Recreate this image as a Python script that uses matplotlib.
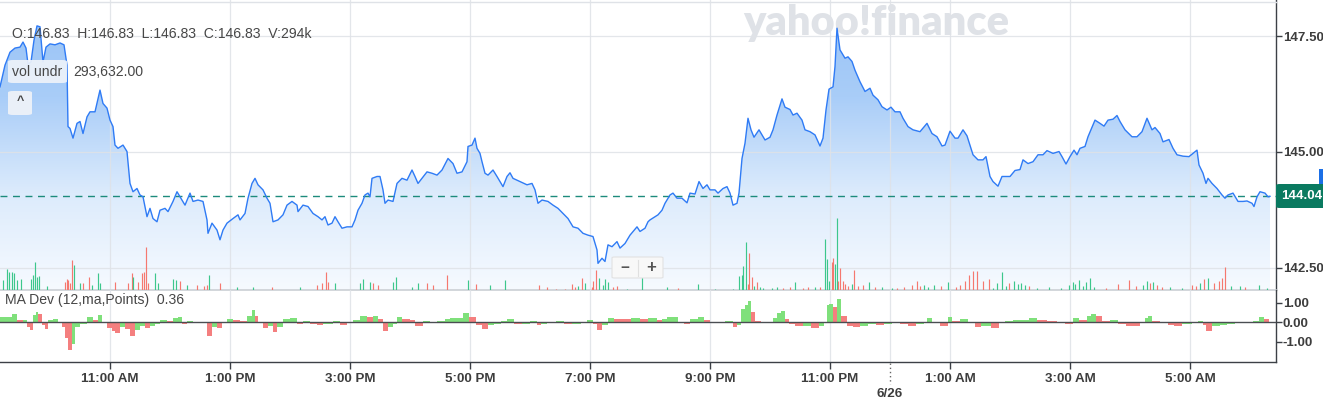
import matplotlib
matplotlib.use("Agg")
import matplotlib.pyplot as plt
import numpy as np
from matplotlib.colors import LinearSegmentedColormap
from matplotlib.patches import FancyBboxPatch, Rectangle
from matplotlib.lines import Line2D

plt.rcParams['font.family'] = ['Liberation Sans', 'DejaVu Sans']

# ---------------- data (minutes after 09:00 on 6/25) ----------------
price_min = [10, 15, 20, 25, 30, 33, 36, 38, 41, 44, 47, 50, 53, 56, 60, 65, 70, 74, 77, 78,
             80, 83, 87, 90, 93, 97, 100, 105, 110, 113, 117, 120, 123, 125, 128, 133, 137, 140, 143, 147,
             150, 153, 157, 160, 163, 167, 170, 175, 178, 183, 187, 192, 195, 200, 203, 208, 213, 217, 218, 222,
             227, 230, 233, 237, 243, 248, 250, 255, 258, 262, 265, 268, 273, 277, 280, 283, 288, 293, 297, 302,
             307, 308, 313, 318, 323, 328, 332, 335, 338, 342, 345, 348, 352, 357, 362, 365, 368, 372, 375, 378,
             380, 382, 387, 390, 393, 395, 398, 403, 407, 412, 417, 422, 425, 428, 432, 437, 442, 447, 452, 458,
             463, 467, 472, 477, 478, 482, 485, 487, 490, 492, 495, 498, 503, 507, 510, 513, 517, 520, 523, 530,
             537, 542, 545, 548, 552, 558, 563, 568, 573, 578, 583, 588, 593, 598, 603, 607, 608, 612, 615, 618,
             622, 627, 630, 635, 640, 647, 650, 655, 658, 660, 665, 668, 672, 675, 680, 683, 687, 692, 697, 700,
             705, 709, 713, 717, 720, 725, 728, 733, 737, 740, 743, 747, 749, 752, 755, 758, 761, 764, 769, 775,
             780, 783, 787, 792, 795, 800, 803, 807, 812, 815, 820, 825, 830, 833, 836, 839, 843, 845, 847, 850,
             855, 858, 862, 865, 870, 875, 880, 883, 888, 892, 897, 901, 905, 910, 913, 918, 923, 930, 937, 942,
             947, 952, 955, 960, 965, 968, 973, 977, 983, 988, 993, 996, 1000, 1003, 1008, 1012, 1020, 1025, 1030, 1033,
             1038, 1043, 1048, 1053, 1057, 1063, 1069, 1072, 1076, 1080, 1084, 1087, 1090, 1095, 1098, 1105, 1110, 1114, 1118, 1123,
             1127, 1130, 1135, 1142, 1147, 1152, 1157, 1162, 1165, 1170, 1173, 1179, 1183, 1187, 1193, 1199, 1203, 1207, 1209, 1213,
             1216, 1218, 1222, 1227, 1232, 1235, 1238, 1243, 1248, 1253, 1257, 1262, 1264, 1267, 1270, 1275, 1278, 1280]
price = [146.41, 146.88, 147.16, 147.25, 147.27, 147.38, 147.25, 146.90, 146.95, 147.42, 147.73, 147.71, 146.95, 147.27, 147.34, 147.32, 147.36, 147.32, 146.88, 145.55,
         145.51, 145.30, 145.62, 145.66, 145.40, 145.76, 145.87, 145.87, 146.34, 146.05, 145.95, 145.69, 145.55, 145.15, 145.08, 145.15, 145.01, 144.32, 144.14, 144.21,
         144.07, 144.03, 143.60, 143.78, 143.56, 143.49, 143.74, 143.78, 143.71, 143.93, 144.14, 143.96, 143.85, 144.11, 143.93, 143.96, 143.93, 143.53, 143.24, 143.46,
         143.31, 143.10, 143.31, 143.46, 143.56, 143.64, 143.53, 143.67, 144.00, 144.32, 144.43, 144.29, 144.18, 144.00, 143.89, 143.49, 143.53, 143.64, 143.85, 143.93,
         143.85, 143.71, 143.85, 143.82, 143.67, 143.60, 143.53, 143.60, 143.42, 143.46, 143.60, 143.49, 143.35, 143.38, 143.38, 143.53, 143.74, 143.89, 144.07, 144.11,
         144.03, 144.43, 144.47, 144.47, 144.18, 143.89, 143.96, 143.93, 144.32, 144.43, 144.39, 144.61, 144.47, 144.32, 144.43, 144.57, 144.54, 144.50, 144.61, 144.86,
         144.75, 144.54, 144.57, 144.79, 145.12, 145.15, 145.30, 145.08, 144.97, 144.79, 144.54, 144.50, 144.61, 144.47, 144.36, 144.25, 144.47, 144.55, 144.43, 144.36,
         144.29, 144.32, 144.18, 143.89, 143.96, 143.93, 143.85, 143.78, 143.67, 143.56, 143.38, 143.35, 143.24, 143.20, 143.17, 142.88, 142.59, 142.70, 142.63, 142.99,
         142.95, 143.06, 142.92, 143.02, 143.20, 143.38, 143.28, 143.35, 143.49, 143.53, 143.60, 143.64, 143.74, 143.89, 144.07, 144.11, 144.00, 144.00, 143.90, 144.11,
         144.09, 144.36, 144.21, 144.29, 144.18, 144.18, 144.11, 144.21, 144.25, 144.11, 143.85, 143.89, 144.11, 144.86, 145.19, 145.73, 145.48, 145.32, 145.48, 145.26,
         145.32, 145.48, 145.80, 146.15, 145.97, 145.92, 145.80, 145.84, 145.69, 145.48, 145.44, 145.37, 145.13, 145.30, 145.91, 146.36, 146.41, 146.85, 147.68, 147.21,
         147.03, 147.06, 146.96, 146.77, 146.52, 146.31, 146.38, 146.23, 146.13, 145.98, 145.91, 145.97, 145.87, 145.87, 145.73, 145.55, 145.48, 145.44, 145.62, 145.40,
         145.33, 145.13, 145.15, 145.45, 145.30, 145.30, 145.48, 145.35, 144.94, 144.83, 144.83, 144.90, 144.47, 144.36, 144.26, 144.47, 144.47, 144.60, 144.62, 144.83,
         144.75, 144.79, 144.94, 144.94, 145.03, 144.97, 145.01, 144.90, 144.74, 144.90, 145.04, 144.94, 145.08, 145.12, 145.33, 145.69, 145.62, 145.56, 145.69, 145.71,
         145.79, 145.66, 145.48, 145.33, 145.33, 145.44, 145.73, 145.48, 145.53, 145.40, 145.22, 145.27, 145.08, 144.94, 144.91, 144.90, 144.97, 145.04, 144.72, 144.54,
         144.32, 144.43, 144.32, 144.21, 144.07, 144.00, 144.07, 144.11, 143.93, 143.93, 143.94, 143.89, 143.82, 144.03, 144.14, 144.11, 144.03, 144.04]
last_price = 144.04

vol_min = [13, 17, 19, 22, 24, 27, 31, 41, 43, 45, 47, 49, 57, 75, 77, 78, 80, 82, 84, 90,
           93, 99, 102, 108, 110, 125, 138, 142, 143, 148, 152, 154, 156, 158, 165, 168, 183, 186, 190, 197,
           207, 214, 217, 219, 230, 247, 263, 282, 310, 327, 332, 336, 338, 345, 370, 373, 380, 383, 388, 403,
           406, 422, 428, 437, 443, 457, 478, 486, 500, 515, 549, 557, 566, 575, 582, 585, 588, 592, 595, 602,
           603, 606, 609, 613, 615, 618, 623, 627, 637, 652, 677, 688, 708, 725, 743, 749, 752, 753, 756, 758,
           759, 762, 764, 767, 770, 773, 782, 787, 793, 800, 805, 813, 818, 825, 830, 835, 837, 839, 842, 843,
           845, 847, 848, 850, 853, 855, 858, 862, 864, 868, 873, 879, 885, 892, 902, 907, 914, 922, 927, 930,
           934, 938, 944, 951, 958, 966, 970, 975, 979, 983, 987, 993, 999, 1003, 1007, 1012, 1016, 1019, 1024, 1028,
           1031, 1035, 1039, 1047, 1059, 1071, 1079, 1083, 1085, 1089, 1093, 1096, 1100, 1104, 1116, 1128, 1139, 1146, 1153, 1157,
           1160, 1163, 1167, 1172, 1180, 1192, 1202, 1206, 1210, 1214, 1218, 1224, 1229, 1232, 1235, 1241, 1250, 1255, 1269, 1277]
vol_k = [40, 83, 73, 73, 67, 40, 43, 43, 60, 113, 53, 56, 16, 33, 43, 40, 29, 120, 100, 27,
         29, 53, 20, 67, 27, 33, 27, 67, 53, 33, 67, 73, 173, 27, 67, 27, 43, 40, 37, 20,
         20, 16, 20, 60, 27, 11, 11, 13, 13, 20, 27, 73, 33, 27, 29, 43, 33, 27, 20, 33,
         51, 13, 27, 27, 20, 60, 39, 25, 19, 39, 19, 12, 4, 4, 24, 13, 17, 48, 27, 13,
         37, 80, 48, 21, 44, 31, 11, 16, 5, 131, 13, 8, 24, 4, 4, 57, 61, 97, 193, 24,
         148, 51, 17, 31, 11, 8, 8, 13, 8, 11, 31, 8, 13, 11, 13, 204, 124, 37, 111, 128,
         104, 288, 37, 88, 37, 24, 17, 24, 80, 17, 21, 31, 11, 13, 8, 8, 12, 21, 35, 15,
         21, 12, 21, 15, 31, 12, 21, 35, 61, 75, 75, 35, 44, 8, 28, 71, 15, 28, 35, 25,
         28, 21, 17, 8, 12, 8, 21, 31, 25, 39, 17, 31, 48, 12, 8, 25, 39, 15, 21, 35,
         28, 31, 21, 12, 12, 8, 21, 17, 28, 44, 48, 28, 35, 48, 92, 15, 17, 12, 21, 8]
vol_dir = ("gggggggggggggrrrrrgg" "rrgggrrrgrrrrrggggrg" "rrrgrggrgrrrrggggrrg" "gggrrrgrggrrrrrrgrgr"
           "rrggggrrgggrgggggggr" "rrgrggggrrgrrgrgggrr" "ggrrrrrgrrrgrggrrrrr" "gggrgrrrrrrrrggggrgg"
           "ggrgggggggggggrrrrgg" "rgrrggrrgrgrrrrggrgg")

dev_min = [10, 13, 17, 20, 22, 27, 33, 37, 40, 43, 46, 48, 52, 55, 58, 63, 68, 72, 75, 78,
           82, 85, 90, 97, 103, 108, 112, 117, 122, 125, 130, 135, 140, 145, 150, 155, 160, 165, 170, 177,
           183, 188, 192, 197, 203, 210, 217, 222, 227, 232, 237, 243, 250, 257, 262, 265, 268, 273, 278, 283,
           287, 293, 300, 307, 313, 320, 327, 333, 343, 350, 357, 363, 370, 377, 383, 388, 393, 398, 403, 407,
           412, 420, 425, 433, 440, 447, 455, 460, 473, 479, 486, 492, 498, 504, 511, 517, 524, 532, 540, 547,
           551, 557, 566, 574, 582, 591, 597, 603, 607, 612, 618, 624, 633, 641, 650, 658, 667, 672, 677, 688,
           694, 700, 708, 714, 720, 729, 735, 743, 747, 751, 755, 758, 761, 765, 771, 777, 783, 787, 791, 795,
           799, 805, 813, 821, 829, 834, 837, 839, 843, 847, 851, 857, 863, 870, 878, 886, 894, 902, 910, 918,
           926, 934, 937, 942, 950, 958, 962, 970, 978, 985, 991, 1001, 1009, 1015, 1023, 1031, 1039, 1047, 1057, 1067,
           1075, 1083, 1089, 1097, 1101, 1106, 1112, 1120, 1128, 1136, 1144, 1150, 1155, 1158, 1162, 1170, 1178, 1184, 1192, 1202,
           1208, 1213, 1216, 1222, 1230, 1237, 1245, 1253, 1263, 1269, 1274, 1279]
dev = [0.27, 0.27, 0.27, 0.27, 0.44, 0.14, 0.14, -0.24, -0.41, 0.39, 0.51, 0.44, -0.12, -0.34, 0.14, 0.17, 0.00, -0.24, -0.80, -1.42,
       -1.13, -0.24, -0.07, 0.27, 0.14, 0.39, 0.00, -0.29, -0.46, -0.54, -0.24, -0.34, -0.71, -0.37, -0.17, -0.29, -0.17, -0.07, 0.10, 0.05,
       0.22, 0.27, -0.07, 0.07, 0.03, 0.03, -0.68, -0.24, -0.29, -0.03, 0.17, 0.14, 0.05, 0.30, 0.61, 0.34, -0.03, -0.29, -0.20, -0.51,
       -0.24, 0.17, 0.20, -0.07, 0.07, -0.07, -0.14, -0.07, 0.07, -0.12, -0.03, 0.10, 0.34, 0.27, 0.34, 0.17, -0.46, -0.24, -0.07, 0.27,
       0.17, 0.14, -0.17, 0.07, 0.00, 0.07, 0.17, 0.24, 0.47, 0.27, -0.15, -0.32, -0.15, -0.07, 0.07, 0.19, -0.07, -0.07, 0.05, -0.12,
       -0.07, 0.02, 0.07, -0.07, -0.07, -0.03, 0.10, -0.07, -0.41, -0.15, 0.24, 0.19, 0.17, 0.24, 0.19, 0.24, 0.14, 0.17, 0.25, -0.03,
       -0.08, 0.17, 0.25, 0.14, 0.00, -0.03, 0.07, -0.25, -0.14, 0.68, 0.88, 1.10, 0.51, 0.08, 0.03, -0.03, 0.20, 0.47, 0.59, 0.17,
       -0.08, -0.20, -0.17, -0.27, -0.17, 0.00, 0.88, 0.93, 0.76, 1.18, 0.30, -0.17, -0.25, -0.20, -0.08, -0.14, -0.08, -0.03, -0.10, -0.20,
       -0.08, 0.03, 0.20, -0.03, -0.20, 0.25, 0.08, 0.17, -0.03, -0.25, -0.20, -0.30, -0.03, 0.08, 0.14, 0.14, 0.20, 0.14, 0.07, 0.00,
       -0.08, 0.20, 0.14, 0.30, 0.42, 0.34, 0.08, 0.14, -0.08, -0.17, -0.20, -0.03, 0.20, 0.30, 0.08, -0.03, -0.14, -0.20, -0.08, 0.03,
       0.08, -0.14, -0.42, -0.17, -0.14, -0.08, 0.03, -0.03, 0.08, 0.25, 0.17, 0.00]

tick_min = [120, 240, 360, 480, 600, 720, 840, 960, 1080, 1200]
tick_lbl = ["11:00 AM", "1:00 PM", "3:00 PM", "5:00 PM", "7:00 PM", "9:00 PM",
            "11:00 PM", "1:00 AM", "3:00 AM", "5:00 AM"]
day_min = 900
day_lbl = "6/26"
price_ticks = [142.5, 145.0, 147.5]
dev_ticks = [-1.0, 0.0, 1.0]

# ---------------- figure ----------------
W, H = 1323, 399
fig = plt.figure(figsize=(W / 100, H / 100), dpi=100)
fig.patch.set_facecolor('white')

def fx(px):
    return px / W

def fy(py):
    return 1 - py / H

XL = (10, 1286)
P_LO, P_HI = 142.013, 148.29
GRID = '#dfe2e7'
AXC = '#3c4046'
TXT = '#3d3d3d'
FS = 10.1

ax = fig.add_axes([0, fy(290), fx(1276), 290 / H])
axd = fig.add_axes([0, fy(362), fx(1276), 72 / H])
for a in (ax, axd):
    a.set_facecolor('none')
    a.set_xlim(*XL)
    a.spines['top'].set_visible(False)
    a.spines['left'].set_visible(False)
    a.spines['right'].set_color(AXC)
    a.spines['right'].set_linewidth(1.0)

# watermark behind axes
fig.text(fx(743), fy(23), 'yahoo!finance', fontsize=30, fontweight='heavy',
         color='#dfe2e7', va='center', ha='left', zorder=-5, family=['Lato', 'DejaVu Sans'])
fig.add_artist(Line2D([0, fx(1276)], [fy(1.5), fy(1.5)], color=GRID, lw=1.0))

# ---- price panel ----
ax.set_ylim(P_LO, P_HI)
ax.spines['bottom'].set_color('#cfd3d8')
ax.spines['bottom'].set_linewidth(1.3)

px_ = np.array(price_min, dtype=float)
py_ = np.array(price)
poly = ax.fill_between(px_, py_, P_LO, color='none', lw=0)
path = poly.get_paths()[0]
cmap = LinearSegmentedColormap.from_list('g', ['#f6faff', '#dcebfc', '#a9cdf8', '#97c2f6'])
grad = np.linspace(1, 0, 256).reshape(-1, 1)
im = ax.imshow(grad, extent=[XL[0], XL[1], P_LO, P_HI], aspect='auto', cmap=cmap,
               vmin=0, vmax=1, origin='upper', zorder=1, interpolation='bilinear')
im.set_clip_path(path, transform=ax.transData)
ax.set_xlim(*XL)
ax.set_ylim(P_LO, P_HI)

# grid drawn above the area fill (visible through it, as in the reference)
for a in (ax, axd):
    for m in tick_min + [day_min]:
        a.axvline(m, color=GRID, lw=0.9, zorder=1.5, alpha=0.85)
for p in price_ticks:
    ax.axhline(p, color=GRID, lw=0.9, zorder=1.5, alpha=0.85)

ax.axhline(last_price, color='#1d8b7c', lw=1.0, dashes=(5, 4), zorder=3)

axv = ax.twinx()
axv.set_ylim(0, 1160)
vcol = ['#3cc78c' if c == 'g' else '#f5786f' for c in vol_dir]
axv.vlines(vol_min, 0, vol_k, colors=vcol, lw=0.85, zorder=2)
axv.set_yticks([])
for s in axv.spines.values():
    s.set_visible(False)
axv.set_xlim(*XL)
axv.set_ylim(0, 1160)

ax.plot(px_, py_, color='#2f7bf5', lw=1.0, zorder=4, solid_joinstyle='round')

ax.yaxis.tick_right()
ax.set_yticks(price_ticks)
ax.set_yticklabels([f"{p:.2f}" for p in price_ticks])
ax.tick_params(axis='y', length=4, width=1, color=AXC, labelsize=9.5, pad=0.8, labelcolor=TXT)
ax.tick_params(axis='x', bottom=False, labelbottom=False)
for t in ax.get_yticklabels():
    t.set_fontweight('semibold')

# ---- MA Dev panel ----
dm = np.array(dev_min, dtype=float)
dv = np.array(dev)
widths = np.append(np.diff(dm), 1.0)
dcol = ['#7fe07b' if (i == 0 or dv[i] >= dv[i - 1]) else '#f47f7f' for i in range(len(dv))]
axd.bar(dm, dv, width=widths, align='edge', color=dcol, lw=0, zorder=2)
axd.axhline(0, color='#4a4d52', lw=1.0, zorder=3)
axd.set_ylim(-2.02, 1.64)
axd.spines['bottom'].set_color(AXC)
axd.spines['bottom'].set_linewidth(1.0)
axd.yaxis.tick_right()
axd.set_yticks(dev_ticks)
axd.set_yticklabels([f"{v:.2f}" for v in dev_ticks])
axd.tick_params(axis='y', length=4, width=1, color=AXC, labelsize=9.5, pad=0.8, labelcolor=TXT)
axd.set_xticks(tick_min)
axd.set_xticklabels(tick_lbl)
axd.tick_params(axis='x', length=5, width=1, color=AXC, labelsize=9.6, pad=3, labelcolor=TXT)
for t in axd.get_yticklabels() + axd.get_xticklabels():
    t.set_fontweight('semibold')

# day separator tick
xday = (day_min - XL[0]) / (XL[1] - XL[0]) * 1276
fig.add_artist(Line2D([fx(xday), fx(xday)], [fy(363), fy(384)], color='#666', lw=1.0, ls=(0, (1, 2))))
fig.text(fx(xday), fy(394), day_lbl, ha='center', va='center', fontsize=9.6,
         fontweight='semibold', color=TXT)

# ---- overlay texts ----
fig.text(fx(12), fy(34), "O:146.83  H:146.83  L:146.83  C:146.83  V:294k",
         fontsize=FS, color='#474747', va='center', ha='left')
fig.add_artist(FancyBboxPatch((fx(8), fy(83)), fx(59), 23 / H,
                              boxstyle='round,pad=0,rounding_size=0.004',
                              transform=fig.transFigure, fc='#eef3fa', ec='none', alpha=0.92))
fig.text(fx(12), fy(71.5), "vol undr", fontsize=FS, color='#474747', va='center', ha='left')
fig.text(fx(73), fy(71.5), "293,632.00", fontsize=FS, color='#474747', va='center', ha='left')
fig.add_artist(FancyBboxPatch((fx(8), fy(115)), fx(24), 24 / H,
                              boxstyle='round,pad=0,rounding_size=0.004',
                              transform=fig.transFigure, fc='#eef2f8', ec='none', alpha=0.95))
fig.text(fx(20), fy(101), "^", fontsize=9, color='#444', va='center', ha='center', fontweight='bold')

fig.text(fx(5), fy(300), "MA Dev (12,ma,Points)  0.36", fontsize=FS, color='#474747',
         va='center', ha='left')

# zoom control
fig.add_artist(FancyBboxPatch((fx(612), fy(278)), fx(51), 21 / H,
                              boxstyle='round,pad=0,rounding_size=0.002',
                              transform=fig.transFigure, fc='#f8f8f8', ec='#e2e2e2', lw=0.8))
fig.add_artist(Line2D([fx(637.5), fx(637.5)], [fy(260), fy(276)], color='#e0e0e0', lw=0.8))
fig.text(fx(624.5), fy(267.5), "\u2212", fontsize=11, color='#555', va='center', ha='center', fontweight='bold')
fig.text(fx(651), fy(267.5), "+", fontsize=12, color='#555', va='center', ha='center', fontweight='bold')

# last price label
fig.add_artist(Rectangle((fx(1319), fy(197)), fx(6), 28 / H, transform=fig.transFigure,
                         fc='#1b6fe6', ec='none'))
fig.add_artist(FancyBboxPatch((fx(1276), fy(208)), fx(52), 24 / H,
                              boxstyle='round,pad=0,rounding_size=0.003',
                              transform=fig.transFigure, fc='#0a7a60', ec='none'))
fig.text(fx(1281), fy(196.5), f"{last_price:.2f}", fontsize=9.6, color='white',
         va='center', ha='left', fontweight='bold')

fig.savefig('out.png', dpi=100, facecolor='white')
